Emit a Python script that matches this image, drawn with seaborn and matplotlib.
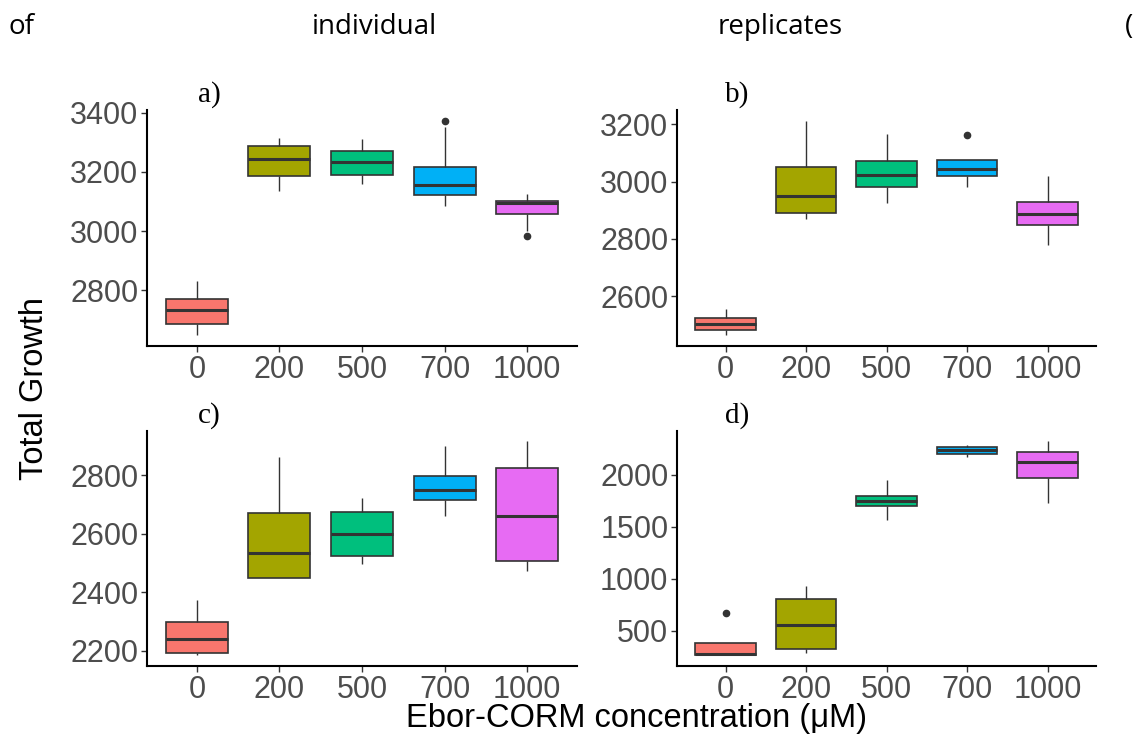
import matplotlib
matplotlib.use("Agg")
import matplotlib.pyplot as plt
import seaborn as sns
import pandas as pd

sns.set_style("white")
plt.rcParams['font.family'] = ['Liberation Sans', 'DejaVu Sans']

categories = ['0', '200', '500', '700', '1000']
palette = ['#F8766D', '#A3A500', '#00BF7D', '#00B0F6', '#E76BF3']

# replicate values per concentration
panel_a = [
    [2648, 2670, 2687, 2710, 2733, 2752, 2772, 2800, 2831],
    [3137, 3160, 3185, 3215, 3245, 3268, 3288, 3302, 3316],
    [3160, 3175, 3188, 3210, 3233, 3252, 3270, 3290, 3312],
    [3086, 3105, 3122, 3140, 3156, 3190, 3218, 3351, 3373],
    [2984, 3001, 3058, 3080, 3094, 3099, 3103, 3115, 3124],
]
panel_b = [
    [2464, 2472, 2482, 2493, 2502, 2514, 2525, 2540, 2554],
    [2868, 2878, 2889, 2920, 2950, 3000, 3051, 3130, 3212],
    [2925, 2955, 2980, 3000, 3022, 3048, 3072, 3120, 3165],
    [2981, 3000, 3019, 3030, 3042, 3060, 3074, 3074, 3163],
    [2778, 2815, 2850, 2870, 2887, 2908, 2929, 2970, 3018],
]
panel_c = [
    [2186, 2190, 2194, 2215, 2240, 2270, 2300, 2335, 2374],
    [2450, 2450, 2450, 2490, 2533, 2600, 2669, 2760, 2860],
    [2498, 2510, 2523, 2560, 2599, 2636, 2674, 2700, 2722],
    [2660, 2690, 2714, 2730, 2750, 2772, 2797, 2850, 2899],
    [2472, 2490, 2507, 2580, 2660, 2740, 2824, 2870, 2915],
]
panel_d = [
    [264, 264, 264, 268, 271, 320, 376, 376, 671],
    [280, 300, 319, 430, 552, 680, 808, 870, 930],
    [1566, 1640, 1697, 1725, 1752, 1775, 1800, 1880, 1950],
    [2174, 2188, 2199, 2220, 2238, 2252, 2266, 2278, 2289],
    [1726, 1850, 1969, 2050, 2129, 2175, 2218, 2270, 2324],
]

yticks_a = [2800, 3000, 3200, 3400]
yticks_b = [2600, 2800, 3000, 3200]
yticks_c = [2200, 2400, 2600, 2800]
yticks_d = [500, 1000, 1500, 2000]

panel_labels = ['a)', 'b)', 'c)', 'd)']
header_words = ['of', 'individual', 'replicates', '(']

W, H = 1144, 738
fig = plt.figure(figsize=(W / 100, H / 100), dpi=100)


def px_axes(left, top, right, bottom):
    return fig.add_axes([left / W, 1 - bottom / H, (right - left) / W, (bottom - top) / H])


boxes = [
    (panel_a, yticks_a, (147.3, 110, 576.7, 346)),
    (panel_b, yticks_b, (677.3, 110, 1096, 346)),
    (panel_c, yticks_c, (147.3, 430.7, 576.7, 665.7)),
    (panel_d, yticks_d, (677.3, 430.7, 1096, 665.7)),
]

for i, (vals, yt, rect) in enumerate(boxes):
    ax = px_axes(*rect)
    rows = []
    for cat, v in zip(categories, vals):
        for x in v:
            rows.append({'conc': cat, 'growth': x})
    df = pd.DataFrame(rows)
    sns.boxplot(data=df, x='conc', y='growth', hue='conc', order=categories,
                hue_order=categories, palette=palette, width=0.75, ax=ax,
                legend=False, saturation=1, linecolor='#333333', linewidth=1.2,
                showcaps=False,
                medianprops=dict(color='#333333', linewidth=2.2),
                whiskerprops=dict(color='#333333', linewidth=1.0),
                flierprops=dict(marker='o', markerfacecolor='#333333',
                                markeredgecolor='#333333', markersize=4.5))
    allv = [x for v in vals for x in v]
    lo, hi = min(allv), max(allv)
    pad = 0.05 * (hi - lo)
    ax.set_ylim(lo - pad, hi + pad)
    ax.set_xlim(-0.6, 4.6)
    ax.set_yticks(yt)
    ax.set_yticklabels([str(t) for t in yt])
    ax.set_xlabel('')
    ax.set_ylabel('')
    for s in ['top', 'right']:
        ax.spines[s].set_visible(False)
    for s in ['left', 'bottom']:
        ax.spines[s].set_color('black')
        ax.spines[s].set_linewidth(1.5)
    ax.tick_params(axis='both', which='both', length=4, width=1, color='#333333',
                   labelsize=22, labelcolor='#4D4D4D', pad=2.5, left=True, bottom=True)
    ax.set_facecolor('white')
    lx = rect[0] + 62 if i % 2 == 0 else rect[0] + 60
    ly = rect[1] - 15
    fig.text(lx / W, 1 - ly / H, panel_labels[i], family=['Liberation Serif'],
             fontsize=21, ha='center', va='center', color='black')

fig.text(35 / W, 1 - 388 / H, 'Total Growth', rotation=90, fontsize=23.5,
         ha='center', va='center', color='black')
fig.text(636 / W, 1 - 719 / H, 'Ebor-CORM concentration (μM)', fontsize=23.5,
         ha='center', va='center', color='black')

header_x = [8, 312, 718, 1125]
for w, x in zip(header_words, header_x):
    fig.text(x / W, 1 - 27 / H, w, family=['Open Sans'], fontsize=20,
             ha='left', va='center', color='black')

fig.savefig('out.png', dpi=100, facecolor='white')
